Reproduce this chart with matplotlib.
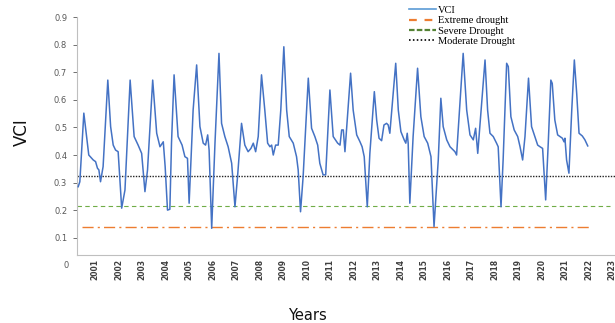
import matplotlib
matplotlib.use("Agg")
import matplotlib.pyplot as plt
from matplotlib.transforms import blended_transform_factory

# ---- data ----
t = [2000.29, 2000.36, 2000.53, 2000.65, 2000.74, 2000.93, 2001.03, 2001.11, 2001.17, 2001.24,
     2001.35, 2001.55, 2001.67, 2001.78, 2001.88, 2001.99, 2002.14, 2002.28, 2002.50, 2002.67,
     2002.84, 2002.99, 2003.13, 2003.24, 2003.46, 2003.63, 2003.77, 2003.91, 2003.99, 2004.09,
     2004.19, 2004.26, 2004.37, 2004.54, 2004.71, 2004.83, 2004.94, 2005.01, 2005.18, 2005.33,
     2005.47, 2005.61, 2005.71, 2005.80, 2005.86, 2005.97, 2006.11, 2006.28, 2006.39, 2006.53,
     2006.67, 2006.82, 2006.96, 2007.07, 2007.24, 2007.38, 2007.52, 2007.64, 2007.74, 2007.84,
     2007.95, 2008.09, 2008.23, 2008.35, 2008.45, 2008.52, 2008.59, 2008.69, 2008.80, 2008.91,
     2009.04, 2009.16, 2009.27, 2009.44, 2009.58, 2009.65, 2009.75, 2009.86, 2010.08, 2010.22,
     2010.36, 2010.48, 2010.57, 2010.71, 2010.82, 2011.00, 2011.14, 2011.33, 2011.43, 2011.50,
     2011.57, 2011.64, 2011.88, 2011.99, 2012.14, 2012.28, 2012.37, 2012.46, 2012.59, 2012.70,
     2012.89, 2012.99, 2013.09, 2013.20, 2013.30, 2013.41, 2013.48, 2013.55, 2013.80, 2013.91,
     2014.02, 2014.16, 2014.23, 2014.29, 2014.33, 2014.40, 2014.54, 2014.73, 2014.87, 2015.01,
     2015.16, 2015.30, 2015.43, 2015.61, 2015.72, 2015.82, 2015.97, 2016.11, 2016.25, 2016.32,
     2016.39, 2016.67, 2016.82, 2016.96, 2017.10, 2017.20, 2017.29, 2017.60, 2017.71, 2017.81,
     2017.95, 2018.09, 2018.16, 2018.28, 2018.37, 2018.52, 2018.59, 2018.70, 2018.84, 2018.99,
     2019.09, 2019.20, 2019.30, 2019.45, 2019.58, 2019.72, 2019.84, 2019.94, 2020.05, 2020.18,
     2020.29, 2020.40, 2020.46, 2020.57, 2020.69, 2020.79, 2020.89, 2020.96, 2021.00, 2021.07,
     2021.17, 2021.29, 2021.40, 2021.50, 2021.60, 2021.74, 2021.85, 2021.97]
vci = [0.285, 0.303, 0.552, 0.467, 0.400, 0.382, 0.376, 0.352, 0.346, 0.303,
       0.358, 0.672, 0.503, 0.436, 0.418, 0.412, 0.207, 0.273, 0.672, 0.467,
       0.436, 0.406, 0.267, 0.346, 0.672, 0.479, 0.430, 0.448, 0.358, 0.200,
       0.203, 0.443, 0.691, 0.467, 0.436, 0.394, 0.388, 0.225, 0.563, 0.727,
       0.503, 0.443, 0.436, 0.473, 0.418, 0.134, 0.443, 0.769, 0.515, 0.467,
       0.430, 0.370, 0.212, 0.321, 0.515, 0.436, 0.412, 0.424, 0.443, 0.412,
       0.467, 0.691, 0.563, 0.443, 0.430, 0.436, 0.400, 0.436, 0.436, 0.563,
       0.793, 0.563, 0.467, 0.443, 0.394, 0.346, 0.194, 0.321, 0.679, 0.497,
       0.467, 0.436, 0.370, 0.328, 0.328, 0.636, 0.467, 0.443, 0.436, 0.491,
       0.491, 0.412, 0.697, 0.563, 0.473, 0.448, 0.430, 0.394, 0.212, 0.406,
       0.630, 0.527, 0.461, 0.452, 0.509, 0.515, 0.509, 0.479, 0.733, 0.563,
       0.485, 0.455, 0.443, 0.479, 0.443, 0.225, 0.467, 0.715, 0.539, 0.467,
       0.443, 0.394, 0.140, 0.382, 0.606, 0.503, 0.455, 0.430, 0.418, 0.412,
       0.400, 0.769, 0.563, 0.473, 0.455, 0.497, 0.406, 0.745, 0.563, 0.479,
       0.467, 0.443, 0.430, 0.212, 0.382, 0.733, 0.721, 0.539, 0.491, 0.467,
       0.430, 0.382, 0.467, 0.679, 0.503, 0.467, 0.436, 0.430, 0.424, 0.237,
       0.443, 0.672, 0.660, 0.527, 0.473, 0.467, 0.461, 0.448, 0.461, 0.382,
       0.334, 0.563, 0.745, 0.624, 0.479, 0.469, 0.455, 0.433]

extreme = 0.14
severe = 0.215
moderate = 0.325
years = list(range(2001, 2024))
yticks = [0.1, 0.2, 0.3, 0.4, 0.5, 0.6, 0.7, 0.8, 0.9]

# ---- figure ----
fig = plt.figure(figsize=(6.15, 3.23), dpi=100)
ax = fig.add_axes([0.125, 0.2105, 0.875, 0.736])

ax.plot(t, vci, color="#4472C4", lw=1.1, label="VCI", zorder=3)
ax.plot([2000.45, 2022.15], [extreme, extreme], color="#ED7D31", lw=1.0,
        ls=(0, (8, 3, 1.5, 3)), label="Extreme drought")
ax.plot([2000.25, 2022.9], [severe, severe], color="#70AD47", lw=0.8,
        ls=(0, (4, 3)), label="Severe Drought")
ax.plot([2000.25, 2023.13], [moderate, moderate], color="#222222", lw=1.0,
        ls=(0, (1, 1)), label="Moderate Drought")

ax.set_xlim(2000.234, 2023.13)
ax.set_ylim(0.037, 0.9)
ax.set_yticks(yticks)
ax.set_yticklabels([f"{v:.1f}" for v in yticks])
ax.set_xticks(years)
ax.set_xticklabels([str(y) for y in years], rotation=90, fontsize=5.5,
                   color="#404040", fontweight="bold")
ax.tick_params(axis="y", labelsize=6, colors="#595959", length=3, width=0.6, pad=4)
ax.tick_params(axis="x", length=0, pad=3)
ax.tick_params(axis="x", colors="#404040")
for s in ["top", "right"]:
    ax.spines[s].set_visible(False)
for s in ["left", "bottom"]:
    ax.spines[s].set_color("#BFBFBF")
    ax.spines[s].set_linewidth(0.8)

tr = blended_transform_factory(ax.transAxes, ax.transData)
ax.text(-0.016, 0.0, "0", transform=tr, ha="right", va="center", fontsize=6,
        color="#595959", clip_on=False)

# legend-like handles
handles = [
    plt.Line2D([], [], color="#5B9BD5", lw=1.2),
    plt.Line2D([], [], color="#ED7D31", lw=1.6, ls=(0, (3.5, 3.5))),
    plt.Line2D([], [], color="#548235", lw=1.6, ls=(0, (2.5, 1))),
    plt.Line2D([], [], color="#222222", lw=1.4, ls=(0, (0.8, 1.2))),
]
labels = ["VCI", "Extreme drought", "Severe Drought", "Moderate Drought"]
fig.legend(handles, labels, loc="upper left", bbox_to_anchor=(0.653, 1.005),
           frameon=False, prop={"family": "Liberation Serif", "size": 7.5},
           handlelength=2.6, handletextpad=0.2, labelspacing=0.1, borderpad=0.2)

fig.text(0.036, 0.59, "VCI", rotation=90, fontsize=12, ha="center", va="center",
         color="#111111")
fig.text(0.50, 0.0, "Years", fontsize=10.5, ha="center", va="bottom", color="#111111")

fig.savefig("out.png", dpi=100)
